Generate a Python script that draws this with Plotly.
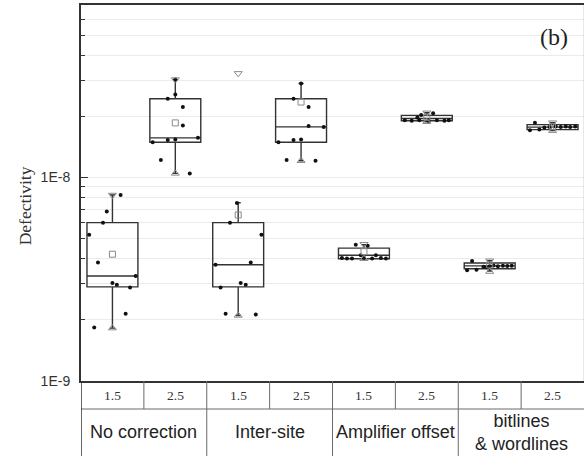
"""Defectivity box plot, panel (b): four correction methods at 1.5 and 2.5."""
import plotly.graph_objects as go

# --- categories ---
groups = ["No correction", "Inter-site", "Amplifier offset", "bitlines<br>& wordlines"]
sub_labels = ["1.5", "2.5"]
positions = [0, 1, 2, 3, 4, 5, 6, 7]

# --- box statistics ---
q1 = [2.90e-9, 1.49e-8, 2.90e-9, 1.49e-8, 3.99e-9, 1.90e-8, 3.56e-9, 1.72e-8]
median = [3.28e-9, 1.567e-8, 3.73e-9, 1.774e-8, 4.15e-9, 1.95e-8, 3.68e-9, 1.77e-8]
q3 = [6.00e-9, 2.44e-8, 6.00e-9, 2.44e-8, 4.50e-9, 2.02e-8, 3.80e-9, 1.82e-8]
lower = [1.82e-9, 1.048e-8, 2.10e-9, 1.21e-8, 3.99e-9, 1.88e-8, 3.47e-9, 1.70e-8]
upper = [8.2e-9, 3.03e-8, 7.52e-9, 2.90e-8, 4.68e-9, 2.08e-8, 3.90e-9, 1.86e-8]
means = [4.2e-9, 1.856e-8, 6.55e-9, 2.35e-8, 4.32e-9, 1.98e-8, 3.72e-9, 1.78e-8]
max_marks = [8.2e-9, 3.03e-8, 3.25e-8, None, 4.70e-9, 2.08e-8, 3.90e-9, 1.86e-8]
min_marks = [1.82e-9, 1.048e-8, 2.10e-9, 1.21e-8, 3.99e-9, 1.88e-8, 3.45e-9, 1.70e-8]

# --- raw points per box: (x offset from box centre, value) ---
pts_nc_15 = [(0.13, 8.2e-9), (-0.09, 6.8e-9), (-0.15, 6.0e-9), (-0.37, 5.24e-9),
             (-0.23, 3.82e-9), (0.37, 3.28e-9), (0.0, 3.03e-9), (0.07, 2.97e-9),
             (0.28, 2.88e-9), (0.21, 2.14e-9), (-0.29, 1.83e-9)]
pts_nc_25 = [(0.0, 3.03e-8), (0.0, 2.56e-8), (-0.12, 2.44e-8), (0.12, 2.22e-8),
             (0.12, 1.80e-8), (0.36, 1.567e-8), (-0.12, 1.53e-8), (0.0, 1.54e-8),
             (-0.36, 1.49e-8), (-0.23, 1.22e-8), (0.23, 1.048e-8)]
pts_is_15 = [(-0.02, 7.5e-9), (-0.13, 6.0e-9), (0.37, 5.23e-9), (0.20, 3.82e-9),
             (-0.36, 3.73e-9), (0.04, 3.03e-9), (0.12, 2.97e-9), (-0.28, 2.88e-9),
             (-0.20, 2.14e-9), (0.28, 2.12e-9)]
pts_is_25 = [(0.0, 2.90e-8), (-0.12, 2.44e-8), (0.12, 2.22e-8), (0.12, 1.79e-8),
             (0.36, 1.77e-8), (-0.12, 1.53e-8), (0.0, 1.54e-8), (-0.36, 1.49e-8),
             (-0.23, 1.22e-8), (0.23, 1.21e-8)]
pts_ao_15 = [(-0.13, 4.67e-9), (0.06, 4.62e-9), (-0.35, 4.02e-9), (-0.27, 4.0e-9),
             (-0.19, 4.0e-9), (-0.05, 4.15e-9), (0.0, 4.02e-9), (0.13, 4.0e-9),
             (0.19, 4.15e-9), (0.27, 4.02e-9), (0.35, 4.0e-9)]
pts_ao_25 = [(-0.09, 2.03e-8), (0.10, 2.07e-8), (-0.15, 1.97e-8), (-0.35, 1.91e-8),
             (-0.24, 1.90e-8), (-0.12, 1.91e-8), (0.03, 1.90e-8), (0.16, 1.91e-8),
             (0.28, 1.90e-8), (0.35, 1.91e-8)]
pts_bw_15 = [(-0.28, 3.89e-9), (-0.36, 3.50e-9), (-0.21, 3.52e-9), (-0.10, 3.64e-9),
             (0.0, 3.66e-9), (0.06, 3.70e-9), (0.13, 3.66e-9), (0.21, 3.68e-9),
             (0.28, 3.67e-9), (0.35, 3.69e-9), (-0.05, 3.62e-9)]
pts_bw_25 = [(-0.28, 1.86e-8), (-0.36, 1.71e-8), (-0.21, 1.72e-8), (-0.13, 1.76e-8),
             (-0.05, 1.77e-8), (0.05, 1.78e-8), (0.13, 1.77e-8), (0.21, 1.78e-8),
             (0.28, 1.77e-8), (0.36, 1.78e-8)]
point_sets = [pts_nc_15, pts_nc_25, pts_is_15, pts_is_25,
              pts_ao_15, pts_ao_25, pts_bw_15, pts_bw_25]

# y ticks
major_ticks = [1e-9, 1e-8]
major_text = ["1E-9", "1E-8"]
minor_ticks = [k * 1e-9 for k in range(2, 10)] + [k * 1e-8 for k in range(2, 8)]

SERIF = "Times New Roman, Liberation Serif, serif"
SANS = "Arial, Liberation Sans, sans-serif"
LINE = "#333333"
GRID = "#ebebeb"
TABLE = "#6a6a6a"

fig = go.Figure()

fig.add_trace(go.Box(
    x=positions, q1=q1, median=median, q3=q3,
    lowerfence=lower, upperfence=upper,
    width=0.81, whiskerwidth=0.1,
    line={"color": LINE, "width": 1.4},
    fillcolor="rgba(0,0,0,0)",
    boxpoints=False, showlegend=False, hoverinfo="skip",
))

# jittered data points
px, py = [], []
for pos, pts in zip(positions, point_sets):
    for dx, v in pts:
        px.append(pos + dx)
        py.append(v)
fig.add_trace(go.Scatter(
    x=px, y=py, mode="markers",
    marker={"color": "#111111", "size": 4},
    showlegend=False, hoverinfo="skip",
))

# mean, max and min markers
fig.add_trace(go.Scatter(
    x=positions, y=means, mode="markers",
    marker={"symbol": "square-open", "color": "#8a8a8a", "size": 6, "line": {"width": 1}},
    showlegend=False, hoverinfo="skip",
))
fig.add_trace(go.Scatter(
    x=positions, y=max_marks, mode="markers",
    marker={"symbol": "triangle-down-open", "color": "#8a8a8a", "size": 7, "line": {"width": 1}},
    showlegend=False, hoverinfo="skip",
))
fig.add_trace(go.Scatter(
    x=positions, y=min_marks, mode="markers",
    marker={"symbol": "triangle-up-open", "color": "#8a8a8a", "size": 7, "line": {"width": 1}},
    showlegend=False, hoverinfo="skip",
))

# category table under the plot
ROW1 = -0.0745
ROW2 = -0.2
shapes = [
    {"type": "line", "xref": "x", "yref": "paper", "x0": -0.5, "x1": 7.5,
     "y0": ROW1, "y1": ROW1, "line": {"color": TABLE, "width": 1}},
    {"type": "line", "xref": "x", "yref": "paper", "x0": -0.5, "x1": -0.5,
     "y0": 0, "y1": ROW2, "line": {"color": LINE, "width": 1.5}},
    {"type": "line", "xref": "x", "yref": "paper", "x0": 7.5, "x1": 7.5,
     "y0": 1, "y1": 0, "line": {"color": "#d0d0d0", "width": 1}},
]
for pos in positions[:-1]:
    top_only = pos % 2 == 0
    shapes.append({
        "type": "line", "xref": "x", "yref": "paper",
        "x0": pos + 0.5, "x1": pos + 0.5, "y0": 0,
        "y1": ROW1 if top_only else ROW2,
        "line": {"color": TABLE, "width": 1},
    })

annotations = []
for pos in positions:
    annotations.append({
        "x": pos, "y": ROW1 / 2, "xref": "x", "yref": "paper",
        "text": sub_labels[pos % 2], "showarrow": False, "yanchor": "middle",
        "font": {"family": SERIF, "size": 13.5, "color": "#333333"},
    })
for i, name in enumerate(groups):
    annotations.append({
        "x": 2 * i + 0.5, "y": -0.136, "xref": "x", "yref": "paper",
        "text": name, "showarrow": False, "yanchor": "middle",
        "font": {"family": SANS, "size": 18, "color": "#222222"},
    })
annotations.append({
    "x": 0.94, "y": 0.915, "xref": "paper", "yref": "paper",
    "text": "(b)", "showarrow": False, "xanchor": "center", "yanchor": "middle",
    "font": {"family": SERIF, "size": 24, "color": "#222222"},
})
# y title as annotation: in the original it sits a little below the axis centre
annotations.append({
    "x": -0.111, "y": 0.465, "xref": "paper", "yref": "paper",
    "text": "Defectivity", "textangle": -90, "showarrow": False,
    "xanchor": "center", "yanchor": "middle",
    "font": {"family": SERIF, "size": 17.5, "color": "#333333"},
})

fig.update_layout(
    width=585, height=456,
    margin={"l": 81, "r": 1, "t": 5, "b": 75},
    paper_bgcolor="white", plot_bgcolor="white",
    shapes=shapes, annotations=annotations,
    xaxis={
        "range": [-0.5, 7.5], "showticklabels": False, "ticks": "",
        "showgrid": False, "zeroline": False, "automargin": False,
        "showline": True, "mirror": True, "linecolor": LINE, "linewidth": 2,
    },
    yaxis={
        "type": "log", "range": [-9, -7.152], "automargin": False,
        "tickmode": "array", "tickvals": major_ticks, "ticktext": major_text,
        "ticks": "inside", "ticklen": 7, "tickwidth": 1.3, "tickcolor": LINE,
        "tickfont": {"family": SANS, "size": 14, "color": "#333333"},
        "ticklabelstandoff": 6,
        "showgrid": True, "gridcolor": GRID, "gridwidth": 1,
        "minor": {"tickvals": minor_ticks, "ticks": "inside", "ticklen": 4,
                  "tickcolor": LINE, "showgrid": True, "gridcolor": GRID},
        "showline": True, "linecolor": LINE, "linewidth": 2,
        "zeroline": False,
    },
)

# the page body has a default 8px margin; drop it so the chart sits at (0, 0)
fig.write_html(
    "out.html",
    config={"displayModeBar": False},
    post_script="document.body.style.margin = '0';",
)
